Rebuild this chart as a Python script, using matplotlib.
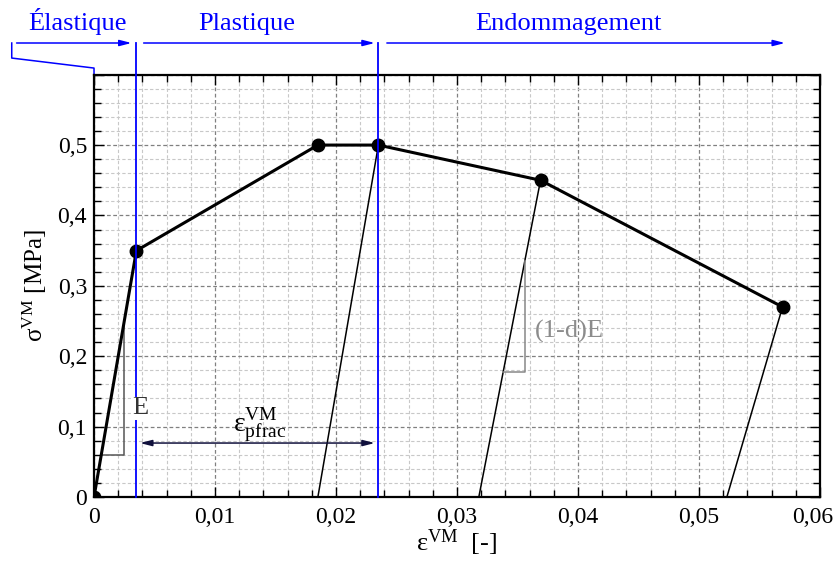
import numpy as np
import matplotlib.pyplot as plt
import matplotlib.transforms as mtransforms
from matplotlib.ticker import MultipleLocator, FuncFormatter

plt.rcParams['font.family'] = ['Liberation Serif', 'DejaVu Serif']
plt.rcParams['mathtext.fontset'] = 'custom'
plt.rcParams['mathtext.rm'] = 'Liberation Serif'
plt.rcParams['mathtext.it'] = 'Liberation Serif:italic'

# Loading curve (strain, stress)
strain = [0.0, 0.0035, 0.0185, 0.0235, 0.0369, 0.0569]
stress = [0.0, 0.35, 0.50, 0.50, 0.45, 0.27]

# Unloading lines: (start strain, start stress, residual strain)
unload_x0 = [0.0235, 0.0369, 0.0569]
unload_y0 = [0.50, 0.45, 0.27]
unload_res = [0.0185, 0.0318, 0.0523]

# Phase limits
phase_x = [0.0035, 0.0235]
phase_names = ['Élastique', 'Plastique', 'Endommagement']
phase_text_x = [-0.0014, 0.0126, 0.0392]

blue = '#0000ff'

fig = plt.figure(figsize=(8.35, 5.74), dpi=100)
ax = fig.add_axes([0.1126, 0.1341, 0.8695, 0.7358])

ax.set_xlim(0, 0.06)
ax.set_ylim(0, 0.6)

# grid
ax.xaxis.set_major_locator(MultipleLocator(0.01))
ax.xaxis.set_minor_locator(MultipleLocator(0.002))
ax.yaxis.set_major_locator(MultipleLocator(0.1))
ax.yaxis.set_minor_locator(MultipleLocator(0.02))
ax.grid(which='minor', color='#c8c8c8', ls=(0, (3, 2)), lw=0.8)
ax.grid(which='major', color='#808080', ls=(0, (3, 2)), lw=0.9)
ax.set_axisbelow(True)

ax.xaxis.set_major_formatter(FuncFormatter(
    lambda v, p: '0' if abs(v) < 1e-9 else ('%.2f' % v).replace('.', ',')))
ax.yaxis.set_major_formatter(FuncFormatter(
    lambda v, p: '0' if abs(v) < 1e-9 else ('' if v > 0.55 else ('%.1f' % v).replace('.', ','))))

ax.tick_params(which='both', direction='in', top=True, right=True, labelsize=17, width=1.0)
ax.tick_params(which='major', length=7.5)
ax.tick_params(which='minor', length=5)
ax.tick_params(axis='x', pad=7)
ax.tick_params(axis='y', pad=5)
for sp in ax.spines.values():
    sp.set_linewidth(1.6)

# unloading lines
for x0, y0, xr in zip(unload_x0, unload_y0, unload_res):
    ax.plot([xr, x0], [0, y0], color='black', lw=1.1, zorder=3)

# main curve
ax.plot(strain, stress, color='black', lw=2.2, marker='o', markersize=9, zorder=4)

# slope triangles
ax.plot([0.0006, 0.0025, 0.0025], [0.06, 0.06, 0.25], color='#555555', lw=1.1, zorder=3)
ax.text(0.0038, 0.126, 'E', fontsize=19, color='#333333', ha='center', va='center',
        bbox=dict(facecolor='white', edgecolor='none', pad=0.5), zorder=6)
ax.plot([0.0338, 0.0356, 0.0356], [0.177, 0.177, 0.335], color='#888888', lw=1.1, zorder=3)
ax.text(0.03645, 0.235, '(1-d)E', fontsize=19, color='#8c8c8c', ha='left', va='center')

# phase boundaries
for px in phase_x:
    ax.plot([px, px], [0, 0.645], color=blue, lw=1.3, clip_on=False, zorder=5)

# plastic strain at fracture
ax.annotate('', xy=(0.0232, 0.0767), xytext=(0.0038, 0.0767),
            arrowprops=dict(arrowstyle='<|-|>,head_length=0.7,head_width=0.18',
                            color='#10103c', lw=1.1, shrinkA=0, shrinkB=0), zorder=5)
ax.text(0.0137, 0.102, r'$\mathrm{ε}^{\mathrm{VM}}_{\mathrm{pfrac}}$', fontsize=20,
        ha='center', va='center')

# top phase arrows
arrows = [(-0.0064, 0.0031), (0.0041, 0.0232), (0.0242, 0.0571)]
for (x0, x1) in arrows:
    ax.annotate('', xy=(x1, 0.645), xytext=(x0, 0.645),
                arrowprops=dict(arrowstyle='-|>,head_length=0.7,head_width=0.18',
                                color=blue, lw=1.1, shrinkA=0, shrinkB=0),
                annotation_clip=False)
ax.plot([-0.0068, -0.0068, 0.0, 0.0], [0.645, 0.6236, 0.6094, 0.6],
        color=blue, lw=1.1, clip_on=False)
for name, tx in zip(phase_names, phase_text_x):
    ax.text(tx, 0.663, name, fontsize=19, color=blue, ha='center', va='baseline')

ax.set_xlabel(r'$\mathrm{ε}^{\mathrm{VM}}$  [-]', fontsize=19, labelpad=0)
ax.set_ylabel(r'$\mathrm{σ}^{\mathrm{VM}}$ [MPa]', fontsize=18, labelpad=6)

# keep the last x tick label inside the figure
fig.canvas.draw()
for lab in ax.get_xticklabels():
    if lab.get_text() == '0,06':
        lab.set_horizontalalignment('right')
        lab.set_transform(lab.get_transform() +
                          mtransforms.ScaledTranslation(13 / 100, 0, fig.dpi_scale_trans))

fig.savefig('out.png', dpi=100)
